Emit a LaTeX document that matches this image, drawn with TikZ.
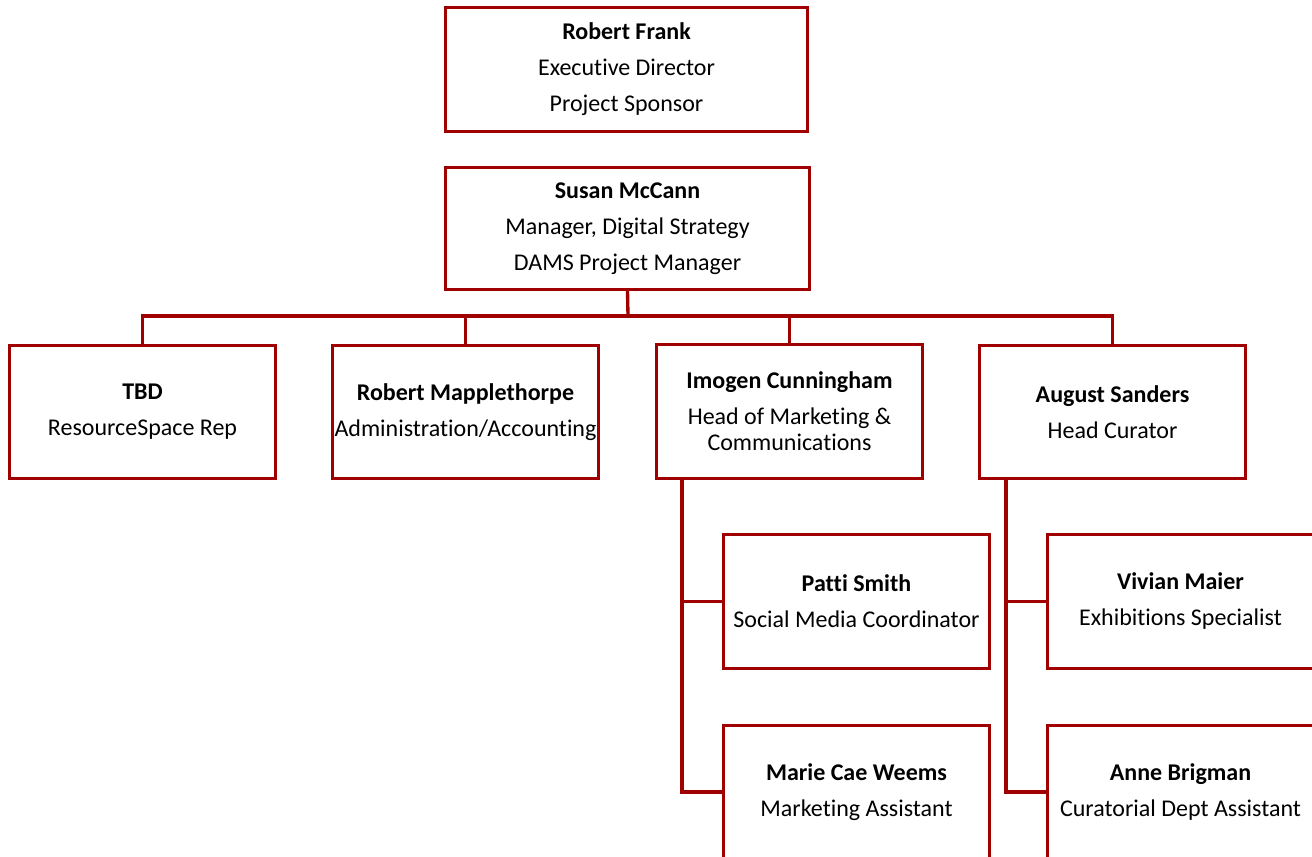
\documentclass[tikz,border=0pt]{standalone}
\usepackage{fontspec}
\setmainfont{Carlito}[RawFeature={-liga;-calt;-dlig;-clig}]
\definecolor{boxred}{HTML}{A00000}
\begin{document}
\begin{tikzpicture}[x=0.75pt,y=-0.75pt,
  box/.style={draw=boxred,line width=2.2pt,fill=white,rectangle,align=center,
    font=\fontsize{18}{19.5}\selectfont,inner sep=0pt},
  topbox/.style={box,minimum width=271.5pt,minimum height=93pt},
  rowbox/.style={box,minimum width=200pt,minimum height=100pt},
  link/.style={draw=boxred,line width=2.5pt}]
\useasboundingbox (0,0) rectangle (1312,856);
\clip (0,0) rectangle (1312,856);
\fill[white] (0,0) rectangle (1312,856);
\node[topbox] (rf) at (626.5,69.5) {\textbf{Robert Frank}\\[7.5pt]Executive Director\\[7.5pt]Project Sponsor};
\node[topbox,minimum width=273pt,minimum height=91.5pt] (sm) at (627.5,228.5) {\textbf{Susan McCann}\\[7.5pt]Manager, Digital Strategy\\[7.5pt]DAMS Project Manager};
\node[rowbox] (tbd) at (142.5,412) {\textbf{TBD}\\[7.5pt]ResourceSpace Rep};
\node[rowbox] (rm) at (465.5,412) {\textbf{Robert Mapplethorpe}\\[7.5pt]Administration/Accounting};
\node[rowbox] (ic) at (789.5,411.5) {\textbf{Imogen Cunningham}\\[7.5pt]Head of Marketing \&\\Communications};
\node[rowbox] (as) at (1112.5,412) {\textbf{August Sanders}\\[7.5pt]Head Curator};
\node[rowbox] (ps) at (856.5,601.5) {\textbf{Patti Smith}\\[7.5pt]Social Media Coordinator};
\node[rowbox] (mw) at (856.5,792) {\textbf{Marie Cae Weems}\\[7.5pt]Marketing Assistant};
\node[rowbox] (vm) at (1180.5,601.5) {\textbf{Vivian Maier}\\[7.5pt]Exhibitions Specialist};
\node[rowbox] (ab) at (1180.5,792) {\textbf{Anne Brigman}\\[7.5pt]Curatorial Dept Assistant};
\coordinate (bus) at (628,316);
\coordinate (icv) at (682,0);
\coordinate (asv) at (1006,0);
\draw[link] (sm.south) -- (bus);
\draw[link] (tbd.north) |- (bus);
\draw[link] (as.north) |- (bus);
\draw[link] (rm.north) -- (rm.north |- bus);
\draw[link] (ic.north) -- (ic.north |- bus);
\draw[link] (ic.south -| icv) |- (mw.west);
\draw[link] (ic.south -| icv) |- (ps.west);
\draw[link] (as.south -| asv) |- (ab.west);
\draw[link] (as.south -| asv) |- (vm.west);
\end{tikzpicture}
\end{document}
